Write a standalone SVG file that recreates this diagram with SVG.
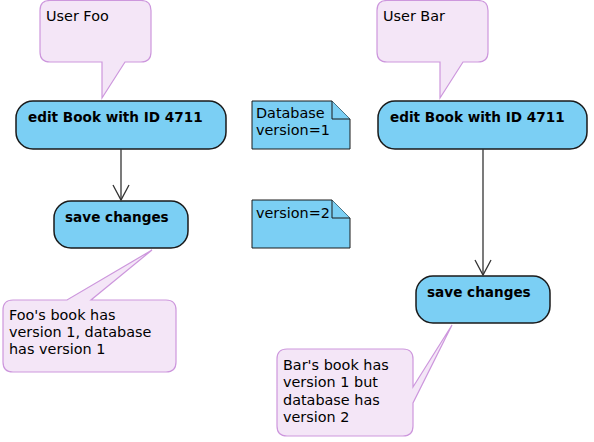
<svg xmlns="http://www.w3.org/2000/svg" width="594" height="442" viewBox="0 0 594 442">
<defs>
<style>
.act{fill:#7BCFF4;stroke:#1a1a1a;stroke-width:1.5}
.note{fill:#7BCFF4;stroke:#1a1a1a;stroke-width:1}
.call{fill:#F4E6F7;stroke:#CD97DD;stroke-width:1.2}
.t{font-family:"DejaVu Sans",sans-serif;font-size:14.4px;fill:#000}
.b{font-family:"DejaVu Sans",sans-serif;font-size:13.6px;font-weight:bold;fill:#000}
.conn{stroke:#333;stroke-width:1.3;fill:none}
</style>
</defs>
<rect width="594" height="442" fill="#fff"/>
<g id="callout-foo">
<path class="call" d="M50,0.5 H141 Q151,0.5 151,10.5 V52 Q151,62 141,62 H125 L102,98 V62 H50 Q40,62 40,52 V10.5 Q40,0.5 50,0.5 Z"/>
<text class="t" x="46" y="21">User Foo</text>
</g>
<g id="callout-bar">
<path class="call" d="M387,0.5 H478 Q488,0.5 488,10.5 V52 Q488,62 478,62 H463 L440,98 V62 H387 Q377,62 377,52 V10.5 Q377,0.5 387,0.5 Z"/>
<text class="t" x="383" y="21">User Bar</text>
</g>
<g id="edit-foo">
<rect class="act" x="16" y="101" width="210" height="48" rx="17" ry="17"/>
<text class="b" x="28" y="122">edit Book with ID 4711</text>
</g>
<g id="edit-bar">
<rect class="act" x="378" y="101" width="209" height="48" rx="17" ry="17"/>
<text class="b" x="390" y="122">edit Book with ID 4711</text>
</g>
<g id="save-foo">
<rect class="act" x="54" y="201" width="134" height="47" rx="17" ry="17"/>
<text class="b" x="65" y="222">save changes</text>
</g>
<g id="save-bar">
<rect class="act" x="416" y="276" width="134" height="47" rx="17" ry="17"/>
<text class="b" x="427" y="297">save changes</text>
</g>
<g id="note-db1">
<path class="note" d="M252,101 H332 L350,119 V149 H252 Z"/>
<path class="note" d="M332,101 V119 H350" fill="none"/>
<text class="t" x="256" y="118">Database</text>
<text class="t" x="256" y="135">version=1</text>
</g>
<g id="note-db2">
<path class="note" d="M252,200 H332 L350,218 V248 H252 Z"/>
<path class="note" d="M332,200 V218 H350" fill="none"/>
<text class="t" x="256" y="218">version=2</text>
</g>
<g id="callout-foo-note">
<path class="call" d="M13,300 H67 L152,250 L91,300 H166 Q176,300 176,310 V362 Q176,372 166,372 H13 Q3,372 3,362 V310 Q3,300 13,300 Z"/>
<text class="t" x="9" y="320">Foo's book has</text>
<text class="t" x="9" y="337">version 1, database</text>
<text class="t" x="9" y="354">has version 1</text>
</g>
<g id="callout-bar-note">
<path class="call" d="M287,349 H403 Q413,349 413,359 V387 L452,325 L413,403 V426 Q413,436 403,436 H287 Q277,436 277,426 V359 Q277,349 287,349 Z"/>
<text class="t" x="283" y="370">Bar's book has</text>
<text class="t" x="283" y="387">version 1 but</text>
<text class="t" x="283" y="405">database has</text>
<text class="t" x="283" y="422">version 2</text>
</g>
<g id="connectors">
<path class="conn" d="M121,149 V200"/>
<path class="conn" d="M113,185 L121,200 L129,185"/>
<path class="conn" d="M483,149 V275"/>
<path class="conn" d="M475,260 L483,275 L491,260"/>
</g>
</svg>
